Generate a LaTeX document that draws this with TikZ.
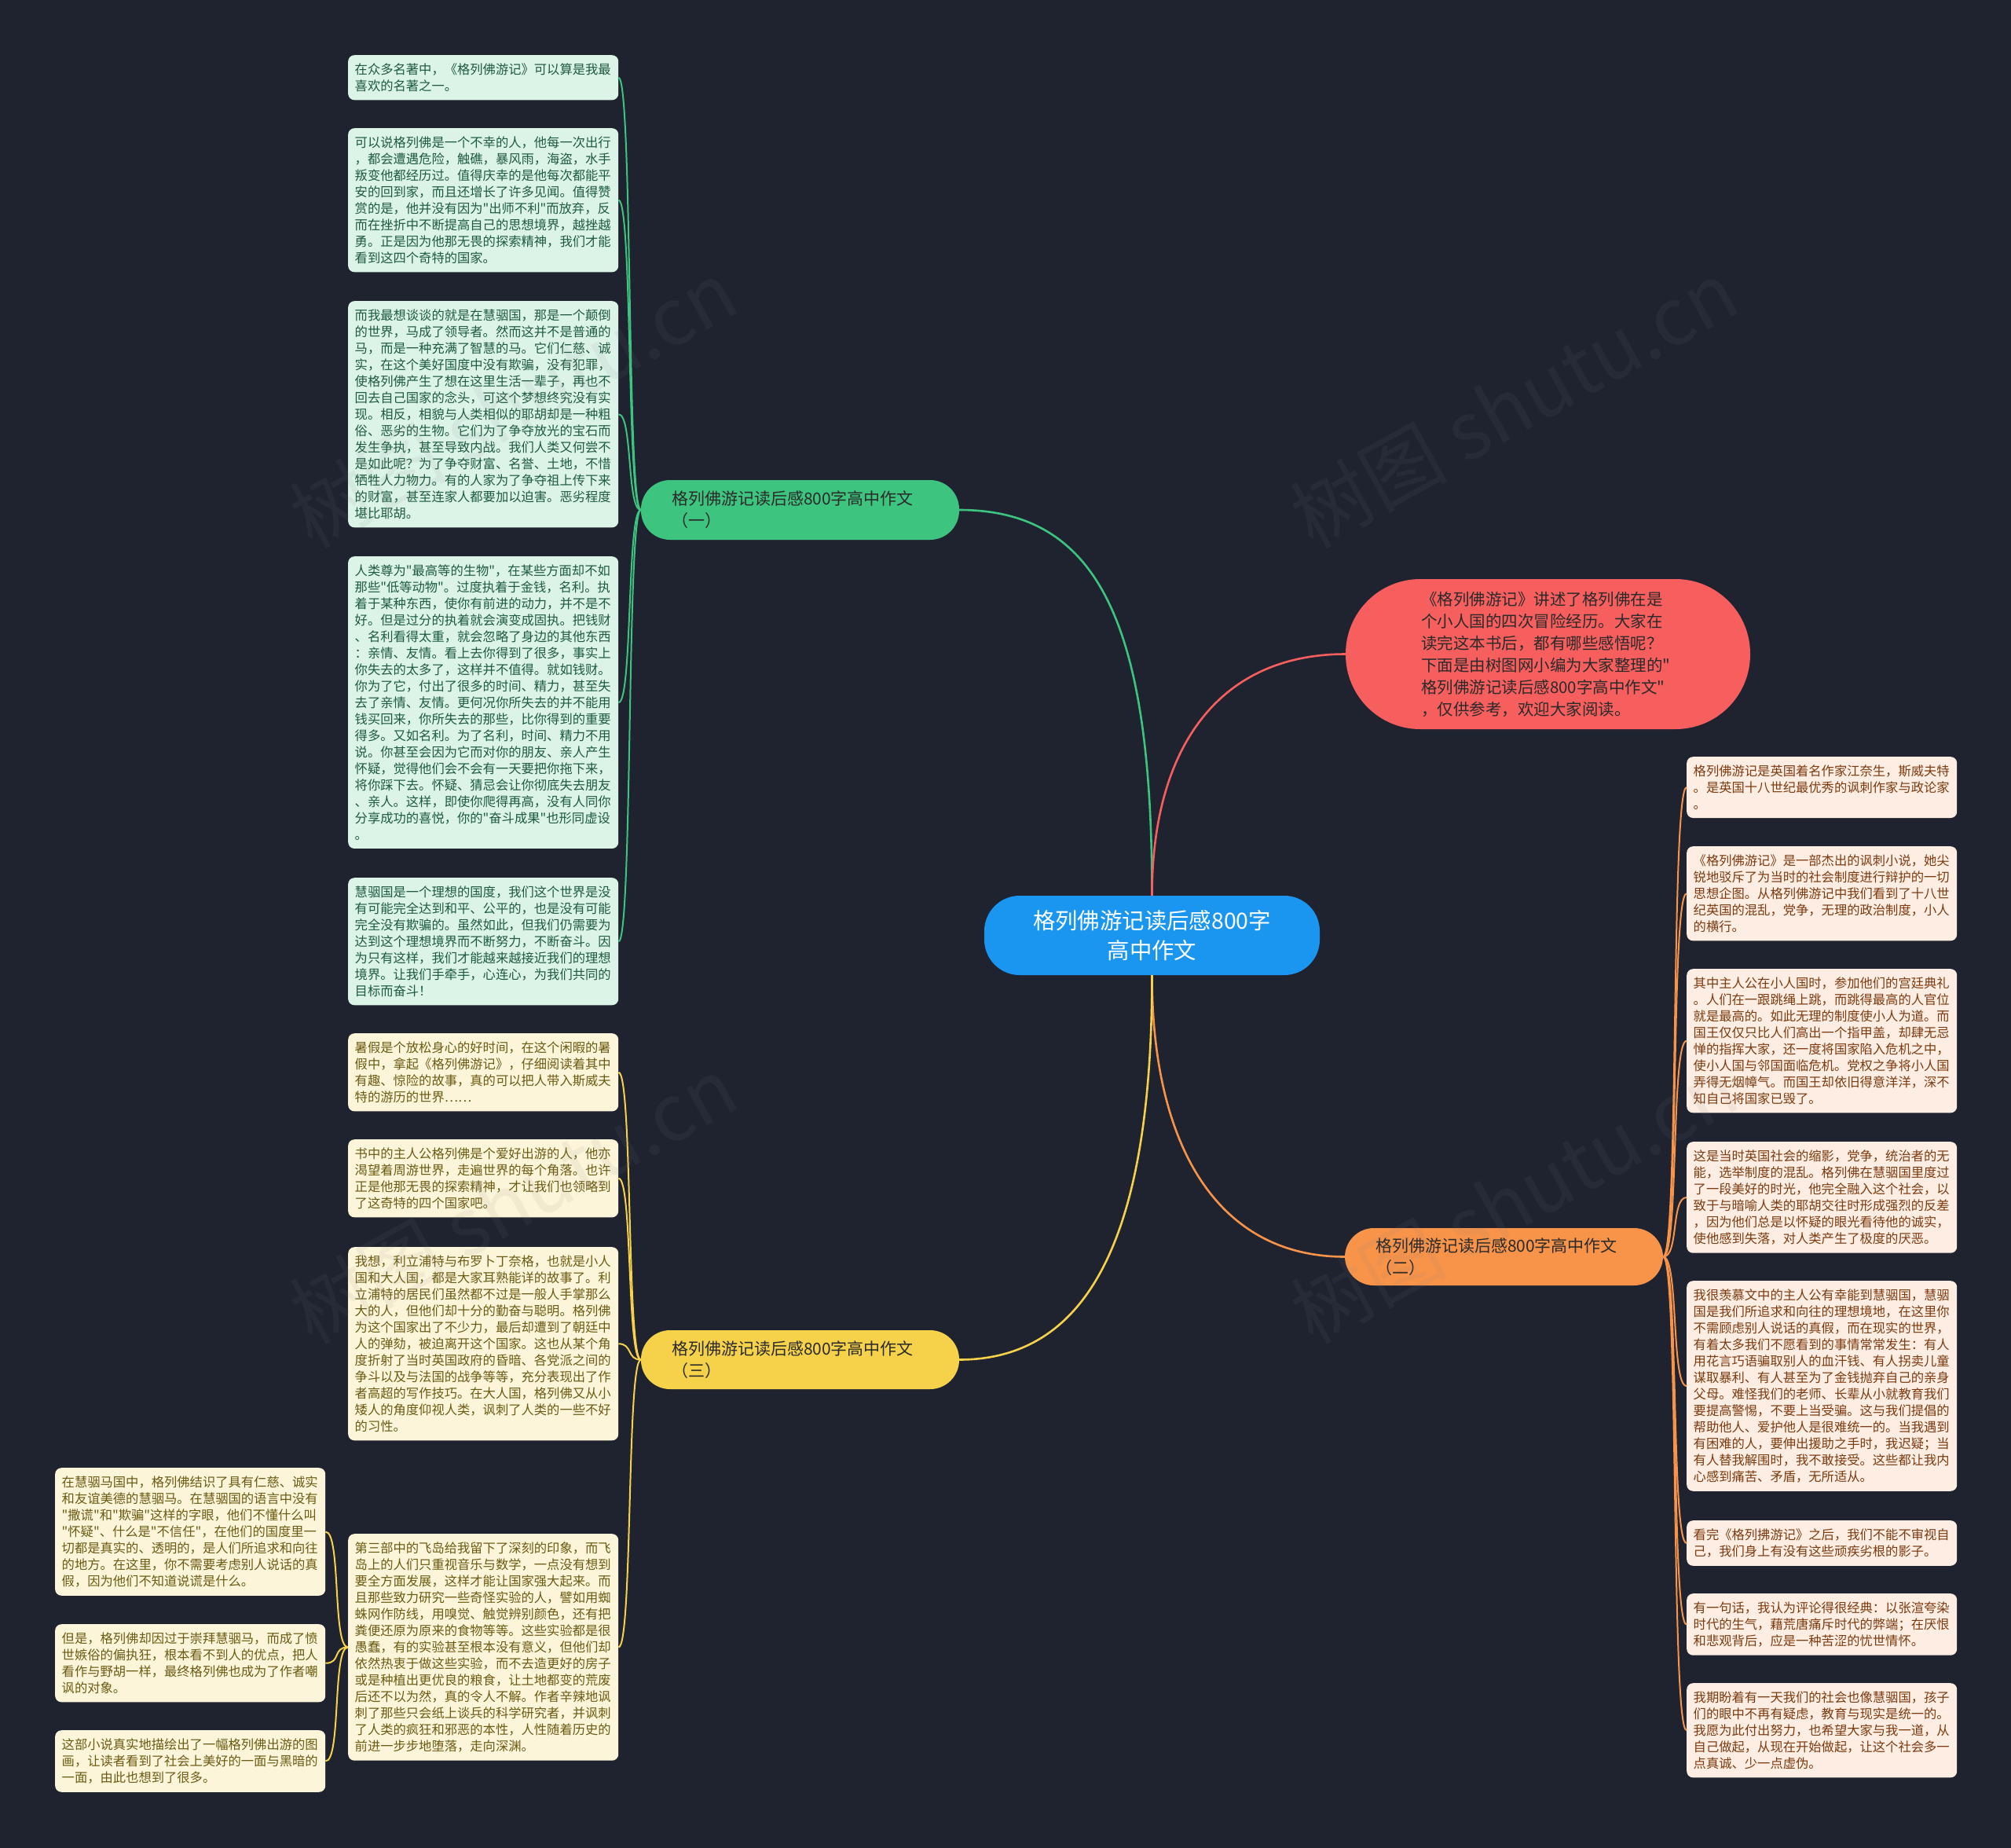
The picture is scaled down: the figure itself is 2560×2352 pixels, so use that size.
\documentclass[tikz,border=0pt]{standalone}
\usepackage{fontspec}
\newfontfamily\cjk{Noto Sans CJK SC}
\definecolor{bgc}{HTML}{1F2330}
\definecolor{gmainc}{HTML}{3DC47E}
\definecolor{gfill}{HTML}{DCF3E8}
\definecolor{gtext}{HTML}{1D5B3E}
\definecolor{ofill}{HTML}{FDEDE2}
\definecolor{otext}{HTML}{7B3A0F}
\definecolor{omainc}{HTML}{F7944A}
\definecolor{yfill}{HTML}{FDF5DA}
\definecolor{ytext}{HTML}{6A5A12}
\definecolor{ymainc}{HTML}{F6D24A}
\definecolor{rmainc}{HTML}{F65F5E}
\definecolor{bluec}{HTML}{1A96F0}
\definecolor{darktext}{HTML}{2A2A2A}
\newcommand\leaffont{\cjk\fontsize{16.3pt}{21pt}\selectfont}
\newcommand\branchfont{\cjk\fontsize{21pt}{28pt}\selectfont}
\tikzset{
  leaf/.style={anchor=north west, rounded corners=8pt, inner xsep=8.5pt, inner ysep=10.5pt,
    text width=327pt, align=left, font=\leaffont},
  gleaf/.style={leaf, fill=gfill, text=gtext},
  oleaf/.style={leaf, fill=ofill, text=otext},
  yleaf/.style={leaf, fill=yfill, text=ytext},
  branch/.style={minimum height=76pt, minimum width=405pt, inner xsep=39pt, inner ysep=0pt,
    text width=327pt, align=left, font=\branchfont, text=darktext, rounded corners=37pt},
  conn/.style={line width=2pt},
  mainconn/.style={line width=2.6pt},
  wm/.style={font=\cjk\fontsize{100pt}{100pt}\selectfont, text=gray, opacity=0.09, rotate=29}
}
\begin{document}
\begin{tikzpicture}[x=1pt,y=-1pt]
\useasboundingbox (0,0) rectangle (2560,2352);
\fill[bgc] (0,0) rectangle (2560,2352);

% root
\node[fill=bluec, text=white, rounded corners=45pt, minimum width=427pt, minimum height=101pt,
  inner sep=0pt, align=center, font=\cjk\fontsize{28.4pt}{37.5pt}\selectfont] (root) at (1466.5,1190.5)
  {格列佛游记读后感800字\\高中作文};

% branches
\node[branch, fill=gmainc] (b1) at (1018.5,649) {格列佛游记读后感800字高中作文\\（一）};
\node[branch, fill=omainc, minimum width=403pt, minimum height=73pt] (b2) at (1914.5,1599.5) {格列佛游记读后感800字高中作文\\（二）};
\node[branch, fill=ymainc, minimum height=75pt] (b3) at (1018.5,1730.5) {格列佛游记读后感800字高中作文\\（三）};
\node[fill=rmainc, text=darktext, rounded corners=95pt, minimum width=515pt, minimum height=191pt,
  inner xsep=96pt, inner ysep=0pt, text width=323pt, align=left, font=\cjk\fontsize{20.5pt}{28pt}\selectfont] (intro) at (1970.5,832.5)
  {《格列佛游记》讲述了格列佛在是\\个小人国的四次冒险经历。大家在\\读完这本书后，都有哪些感悟呢？\\下面是由树图网小编为大家整理的"\\格列佛游记读后感800字高中作文"\\，仅供参考，欢迎大家阅读。};

% green leaves
\node[gleaf] (g1) at (443,70) {在众多名著中，《格列佛游记》可以算是我最\\
喜欢的名著之一。};
\node[gleaf] (g2) at (443,163) {可以说格列佛是一个不幸的人，他每一次出行\\
，都会遭遇危险，触礁，暴风雨，海盗，水手\\
叛变他都经历过。值得庆幸的是他每次都能平\\
安的回到家，而且还增长了许多见闻。值得赞\\
赏的是，他并没有因为"出师不利"而放弃，反\\
而在挫折中不断提高自己的思想境界，越挫越\\
勇。正是因为他那无畏的探索精神，我们才能\\
看到这四个奇特的国家。};
\node[gleaf] (g3) at (443,383) {而我最想谈谈的就是在慧骃国，那是一个颠倒\\
的世界，马成了领导者。然而这并不是普通的\\
马，而是一种充满了智慧的马。它们仁慈、诚\\
实，在这个美好国度中没有欺骗，没有犯罪，\\
使格列佛产生了想在这里生活一辈子，再也不\\
回去自己国家的念头，可这个梦想终究没有实\\
现。相反，相貌与人类相似的耶胡却是一种粗\\
俗、恶劣的生物。它们为了争夺放光的宝石而\\
发生争执，甚至导致内战。我们人类又何尝不\\
是如此呢？为了争夺财富、名誉、土地，不惜\\
牺牲人力物力。有的人家为了争夺祖上传下来\\
的财富，甚至连家人都要加以迫害。恶劣程度\\
堪比耶胡。};
\node[gleaf] (g4) at (443,708) {人类尊为"最高等的生物"，在某些方面却不如\\
那些"低等动物"。过度执着于金钱，名利。执\\
着于某种东西，使你有前进的动力，并不是不\\
好。但是过分的执着就会演变成固执。把钱财\\
、名利看得太重，就会忽略了身边的其他东西\\
：亲情、友情。看上去你得到了很多，事实上\\
你失去的太多了，这样并不值得。就如钱财。\\
你为了它，付出了很多的时间、精力，甚至失\\
去了亲情、友情。更何况你所失去的并不能用\\
钱买回来，你所失去的那些，比你得到的重要\\
得多。又如名利。为了名利，时间、精力不用\\
说。你甚至会因为它而对你的朋友、亲人产生\\
怀疑，觉得他们会不会有一天要把你拖下来，\\
将你踩下去。怀疑、猜忌会让你彻底失去朋友\\
、亲人。这样，即使你爬得再高，没有人同你\\
分享成功的喜悦，你的"奋斗成果"也形同虚设\\
。};
\node[gleaf] (g5) at (443,1117) {慧骃国是一个理想的国度，我们这个世界是没\\
有可能完全达到和平、公平的，也是没有可能\\
完全没有欺骗的。虽然如此，但我们仍需要为\\
达到这个理想境界而不断努力，不断奋斗。因\\
为只有这样，我们才能越来越接近我们的理想\\
境界。让我们手牵手，心连心，为我们共同的\\
目标而奋斗！};

% orange leaves
\node[oleaf] (o1) at (2147,963) {格列佛游记是英国着名作家江奈生，斯威夫特\\
。是英国十八世纪最优秀的讽刺作家与政论家\\
。};
\node[oleaf] (o2) at (2147,1077) {《格列佛游记》是一部杰出的讽刺小说，她尖\\
锐地驳斥了为当时的社会制度进行辩护的一切\\
思想企图。从格列佛游记中我们看到了十八世\\
纪英国的混乱，党争，无理的政治制度，小人\\
的横行。};
\node[oleaf] (o3) at (2147,1233) {其中主人公在小人国时，参加他们的宫廷典礼\\
。人们在一跟跳绳上跳，而跳得最高的人官位\\
就是最高的。如此无理的制度使小人为道。而\\
国王仅仅只比人们高出一个指甲盖，却肆无忌\\
惮的指挥大家，还一度将国家陷入危机之中，\\
使小人国与邻国面临危机。党权之争将小人国\\
弄得无烟幛气。而国王却依旧得意洋洋，深不\\
知自己将国家已毁了。};
\node[oleaf] (o4) at (2147,1453) {这是当时英国社会的缩影，党争，统治者的无\\
能，选举制度的混乱。格列佛在慧骃国里度过\\
了一段美好的时光，他完全融入这个社会，以\\
致于与暗喻人类的耶胡交往时形成强烈的反差\\
，因为他们总是以怀疑的眼光看待他的诚实，\\
使他感到失落，对人类产生了极度的厌恶。};
\node[oleaf] (o5) at (2147,1630) {我很羡慕文中的主人公有幸能到慧骃国，慧骃\\
国是我们所追求和向往的理想境地，在这里你\\
不需顾虑别人说话的真假，而在现实的世界，\\
有着太多我们不愿看到的事情常常发生：有人\\
用花言巧语骗取别人的血汗钱、有人拐卖儿童\\
谋取暴利、有人甚至为了金钱抛弃自己的亲身\\
父母。难怪我们的老师、长辈从小就教育我们\\
要提高警惕，不要上当受骗。这与我们提倡的\\
帮助他人、爱护他人是很难统一的。当我遇到\\
有困难的人，要伸出援助之手时，我迟疑；当\\
有人替我解围时，我不敢接受。这些都让我内\\
心感到痛苦、矛盾，无所适从。};
\node[oleaf] (o6) at (2147,1935) {看完《格列拂游记》之后，我们不能不审视自\\
己，我们身上有没有这些顽疾劣根的影子。};
\node[oleaf] (o7) at (2147,2028) {有一句话，我认为评论得很经典：以张渲夸染\\
时代的生气，藉荒唐痛斥时代的弊端；在厌恨\\
和悲观背后，应是一种苦涩的忧世情怀。};
\node[oleaf] (o8) at (2147,2142) {我期盼着有一天我们的社会也像慧骃国，孩子\\
们的眼中不再有疑虑，教育与现实是统一的。\\
我愿为此付出努力，也希望大家与我一道，从\\
自己做起，从现在开始做起，让这个社会多一\\
点真诚、少一点虚伪。};

% yellow leaves
\node[yleaf] (y1) at (443,1315) {暑假是个放松身心的好时间，在这个闲暇的暑\\
假中，拿起《格列佛游记》，仔细阅读着其中\\
有趣、惊险的故事，真的可以把人带入斯威夫\\
特的游历的世界……};
\node[yleaf] (y2) at (443,1450) {书中的主人公格列佛是个爱好出游的人，他亦\\
渴望着周游世界，走遍世界的每个角落。也许\\
正是他那无畏的探索精神，才让我们也领略到\\
了这奇特的四个国家吧。};
\node[yleaf] (y3) at (443,1587) {我想，利立浦特与布罗卜丁奈格，也就是小人\\
国和大人国，都是大家耳熟能详的故事了。利\\
立浦特的居民们虽然都不过是一般人手掌那么\\
大的人，但他们却十分的勤奋与聪明。格列佛\\
为这个国家出了不少力，最后却遭到了朝廷中\\
人的弹劾，被迫离开这个国家。这也从某个角\\
度折射了当时英国政府的昏暗、各党派之间的\\
争斗以及与法国的战争等等，充分表现出了作\\
者高超的写作技巧。在大人国，格列佛又从小\\
矮人的角度仰视人类，讽刺了人类的一些不好\\
的习性。};
\node[yleaf] (y4) at (443,1952) {第三部中的飞岛给我留下了深刻的印象，而飞\\
岛上的人们只重视音乐与数学，一点没有想到\\
要全方面发展，这样才能让国家强大起来。而\\
且那些致力研究一些奇怪实验的人，譬如用蜘\\
蛛网作防线，用嗅觉、触觉辨别颜色，还有把\\
粪便还原为原来的食物等等。这些实验都是很\\
愚蠢，有的实验甚至根本没有意义，但他们却\\
依然热衷于做这些实验，而不去造更好的房子\\
或是种植出更优良的粮食，让土地都变的荒废\\
后还不以为然，真的令人不解。作者辛辣地讽\\
刺了那些只会纸上谈兵的科学研究者，并讽刺\\
了人类的疯狂和邪恶的本性，人性随着历史的\\
前进一步步地堕落，走向深渊。};
\node[yleaf] (y5) at (70,1868) {在慧骃马国中，格列佛结识了具有仁慈、诚实\\
和友谊美德的慧骃马。在慧骃国的语言中没有\\
"撒谎"和"欺骗"这样的字眼，他们不懂什么叫\\
"怀疑"、什么是"不信任"，在他们的国度里一\\
切都是真实的、透明的，是人们所追求和向往\\
的地方。在这里，你不需要考虑别人说话的真\\
假，因为他们不知道说谎是什么。};
\node[yleaf] (y6) at (70,2067) {但是，格列佛却因过于崇拜慧骃马，而成了愤\\
世嫉俗的偏执狂，根本看不到人的优点，把人\\
看作与野胡一样，最终格列佛也成为了作者嘲\\
讽的对象。};
\node[yleaf] (y7) at (70,2202) {这部小说真实地描绘出了一幅格列佛出游的图\\
画，让读者看到了社会上美好的一面与黑暗的\\
一面，由此也想到了很多。};

% main connectors
\draw[mainconn, gmainc] (root.north) .. controls +(0,-340) and +(180,0) .. (b1.east);
\draw[mainconn, rmainc] (root.north) .. controls +(0,-190) and +(-160,0) .. (intro.west);
\draw[mainconn, omainc] (root.south) .. controls +(0,220) and +(-160,0) .. (b2.west);
\draw[mainconn, ymainc] (root.south) .. controls +(0,300) and +(180,0) .. (b3.east);

% leaf connectors
\foreach \c in {g1,g2,g3,g4,g5}
  \draw[conn, gmainc] (b1.west) .. controls +(-18,0) and +(18,0) .. (\c.east);
\foreach \c in {o1,o2,o3,o4,o5,o6,o7,o8}
  \draw[conn, omainc] (b2.east) .. controls +(20,0) and +(-20,0) .. (\c.west);
\foreach \c in {y1,y2,y3,y4}
  \draw[conn, ymainc] (b3.west) .. controls +(-18,0) and +(18,0) .. (\c.east);
\foreach \c in {y5,y6,y7}
  \draw[conn, ymainc] (y4.west) .. controls +(-20,0) and +(20,0) .. (\c.east);

% watermarks
\node[wm] (w1) at (653,514) {树图 shutu.cn};
\node[wm] (w2) at (1927,514) {树图 shutu.cn};
\node[wm] (w3) at (653,1527) {树图 shutu.cn};
\node[wm] (w4) at (1927,1527) {树图 shutu.cn};
\end{tikzpicture}
\end{document}
